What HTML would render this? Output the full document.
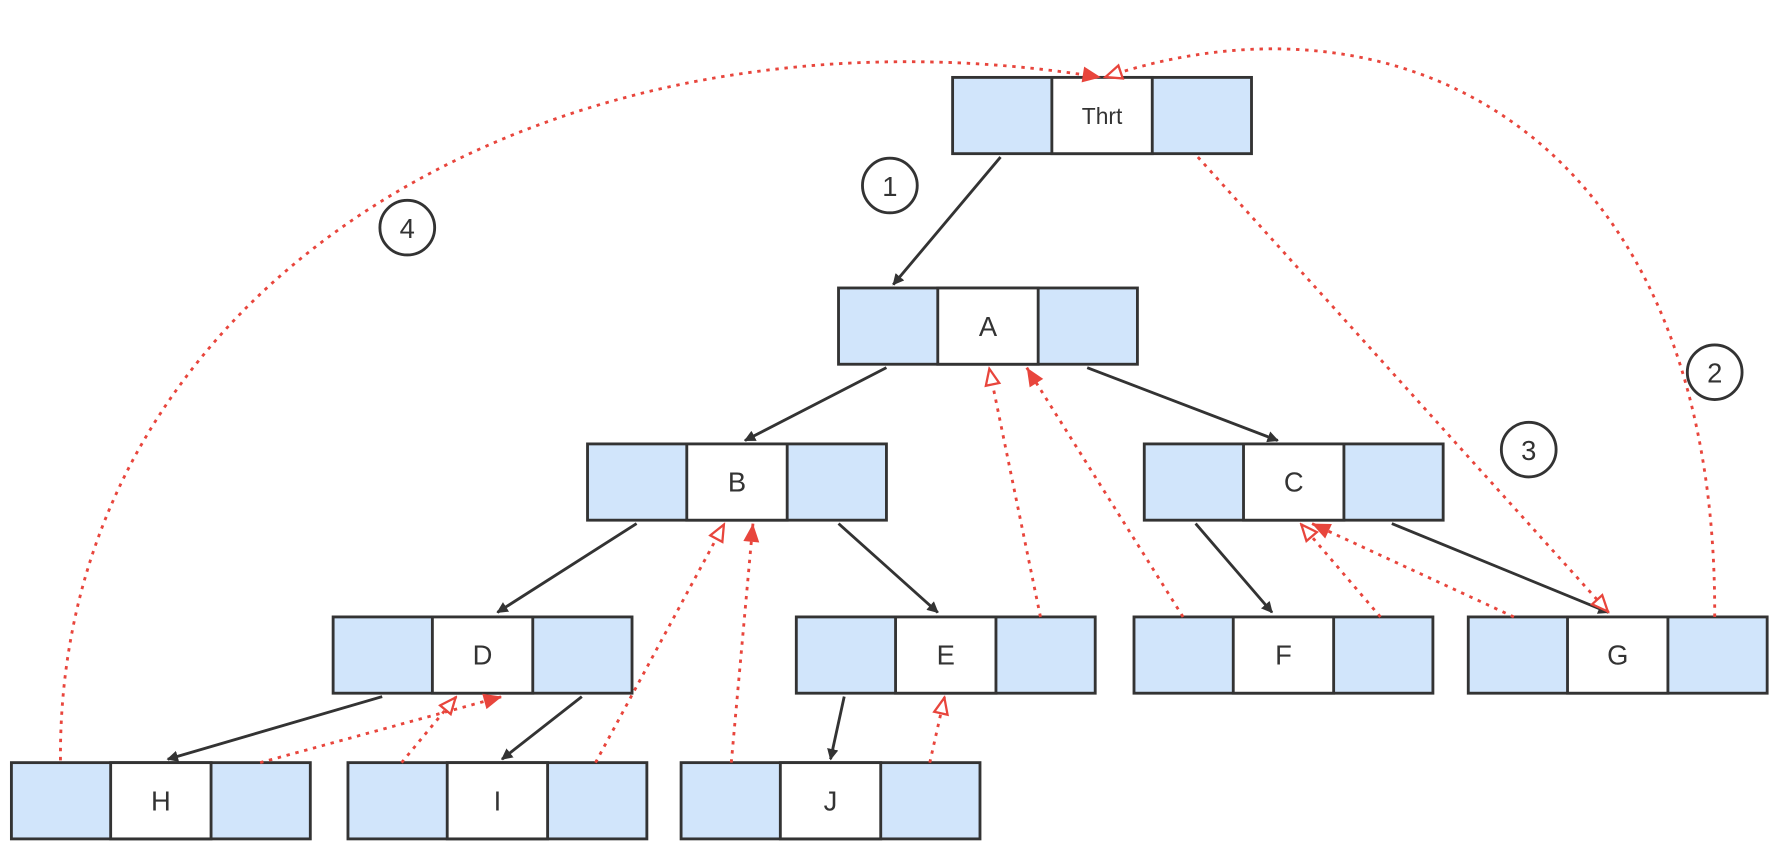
<!DOCTYPE html>
<html><head><style>html,body{margin:0;padding:0;background:#fff}svg{display:block}</style></head><body>
<svg width="1782" height="848" viewBox="0 0 1562 745" preserveAspectRatio="none" xmlns="http://www.w3.org/2000/svg" font-family="Liberation Sans, sans-serif">
<defs>
<marker id="bk" markerWidth="10" markerHeight="10" refX="9" refY="5" orient="auto" markerUnits="userSpaceOnUse" viewBox="0 0 10 10"><path d="M0,0 L10,5 L0,10 z" fill="#333"/></marker>
<marker id="rf" markerWidth="18" markerHeight="18" refX="17" refY="9" orient="auto" markerUnits="userSpaceOnUse" viewBox="0 0 18 18"><path d="M1,2 L17,9 L1,16 z" fill="#e8453c"/></marker>
<marker id="rh" markerWidth="18" markerHeight="18" refX="17" refY="9" orient="auto" markerUnits="userSpaceOnUse" viewBox="0 0 18 18"><path d="M2,3 L16,9 L2,15 z" fill="#fff" stroke="#e8453c" stroke-width="2"/></marker>
</defs>
<g stroke="#333" stroke-width="2.5" fill="#d1e5fb">
<g id="n">
</g>
</g>
<g stroke="#333" stroke-width="2.5">
<rect x="835" y="68" width="262" height="67" fill="#d1e5fb"/><rect x="922" y="68" width="88" height="67" fill="#fff"/>
<rect x="735" y="253" width="262" height="67" fill="#d1e5fb"/><rect x="822" y="253" width="88" height="67" fill="#fff"/>
<rect x="515" y="390" width="262" height="67" fill="#d1e5fb"/><rect x="602" y="390" width="88" height="67" fill="#fff"/>
<rect x="1003" y="390" width="262" height="67" fill="#d1e5fb"/><rect x="1090" y="390" width="88" height="67" fill="#fff"/>
<rect x="292" y="542" width="262" height="67" fill="#d1e5fb"/><rect x="379" y="542" width="88" height="67" fill="#fff"/>
<rect x="698" y="542" width="262" height="67" fill="#d1e5fb"/><rect x="785" y="542" width="88" height="67" fill="#fff"/>
<rect x="994" y="542" width="262" height="67" fill="#d1e5fb"/><rect x="1081" y="542" width="88" height="67" fill="#fff"/>
<rect x="1287" y="542" width="262" height="67" fill="#d1e5fb"/><rect x="1374" y="542" width="88" height="67" fill="#fff"/>
<rect x="10" y="670" width="262" height="67" fill="#d1e5fb"/><rect x="97" y="670" width="88" height="67" fill="#fff"/>
<rect x="305" y="670" width="262" height="67" fill="#d1e5fb"/><rect x="392" y="670" width="88" height="67" fill="#fff"/>
<rect x="597" y="670" width="262" height="67" fill="#d1e5fb"/><rect x="684" y="670" width="88" height="67" fill="#fff"/>
</g>
<g fill="#333" font-size="24" text-anchor="middle">
<text x="966" y="109" font-size="20">Thrt</text>
<text x="866" y="295">A</text><text x="646" y="432">B</text><text x="1134" y="432">C</text>
<text x="423" y="584">D</text><text x="829" y="584">E</text><text x="1125" y="584">F</text>
<text x="1418" y="584">G</text><text x="141" y="712">H</text><text x="436" y="712">I</text><text x="728" y="712">J</text>
</g>
<g stroke="#333" stroke-width="2.5" marker-end="url(#bk)" fill="none">
<line x1="877" y1="138" x2="783" y2="250"/>
<line x1="777" y1="323" x2="653" y2="387"/>
<line x1="953" y1="323" x2="1120" y2="387"/>
<line x1="558" y1="460" x2="436" y2="538"/>
<line x1="735" y1="460" x2="822" y2="538"/>
<line x1="335" y1="612" x2="147" y2="667"/>
<line x1="510" y1="612" x2="440" y2="667"/>
<line x1="740" y1="612" x2="728" y2="667"/>
<line x1="1048" y1="460" x2="1115" y2="538"/>
<line x1="1220" y1="460" x2="1410" y2="538"/>
</g>
<g stroke="#e8453c" stroke-width="2.5" stroke-dasharray="3 5" fill="none">
<path d="M53,668 C50,250 480,-10 965,68" marker-end="url(#rf)"/>
<path d="M1503,542 C1505,120 1230,-20 968,68" marker-end="url(#rh)"/>
<path d="M1050,138 L1410,538" marker-end="url(#rh)"/>
<path d="M228,670 L440,612" marker-end="url(#rf)"/>
<path d="M352,670 L400,612" marker-end="url(#rh)"/>
<path d="M522,670 L635,460" marker-end="url(#rh)"/>
<path d="M641,670 L660,460" marker-end="url(#rf)"/>
<path d="M815,670 L828,612" marker-end="url(#rh)"/>
<path d="M912,542 L867,323" marker-end="url(#rh)"/>
<path d="M1037,542 L900,323" marker-end="url(#rf)"/>
<path d="M1210,542 L1140,460" marker-end="url(#rh)"/>
<path d="M1327,542 L1150,460" marker-end="url(#rf)"/>
</g>
<g stroke="#333" stroke-width="2.5" fill="#fff">
<circle cx="780" cy="163" r="24"/><circle cx="357" cy="200" r="24"/>
<circle cx="1503" cy="327" r="24"/><circle cx="1340" cy="395" r="24"/>
</g>
<g fill="#333" font-size="24" text-anchor="middle">
<text x="780" y="172">1</text><text x="357" y="209">4</text>
<text x="1503" y="336">2</text><text x="1340" y="404">3</text>
</g>
</svg>
</body></html>
